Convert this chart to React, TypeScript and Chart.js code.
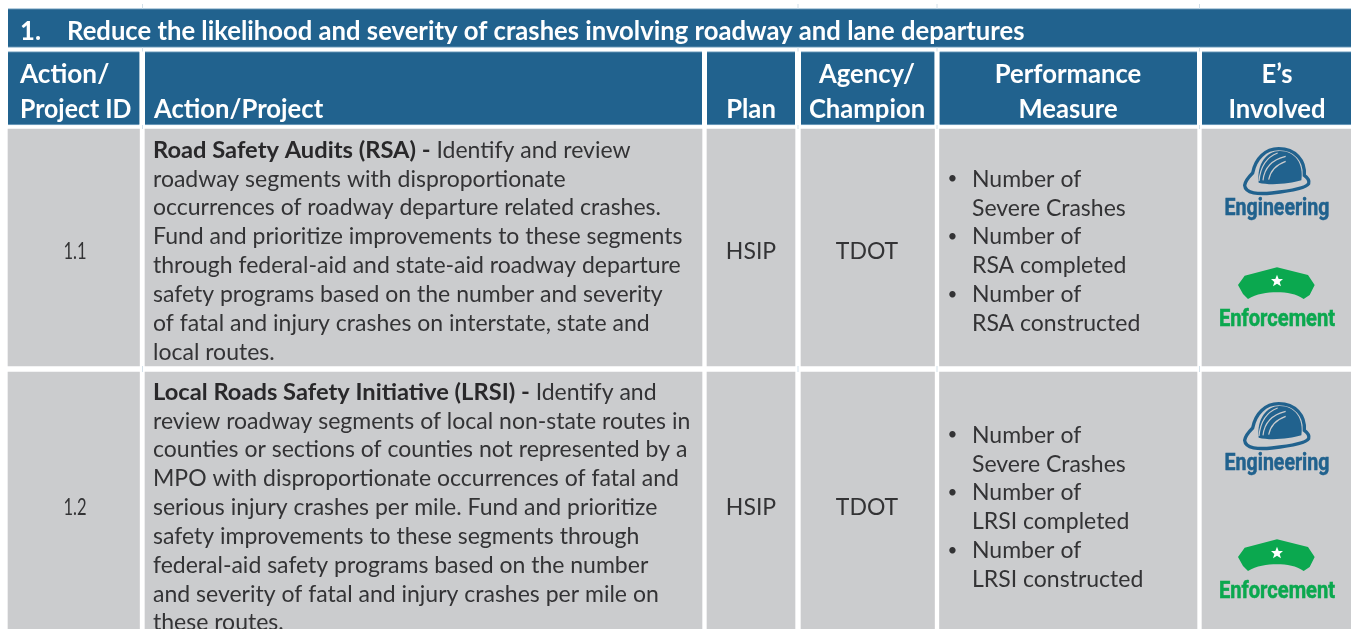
import React, { useEffect, useRef } from "react";
import { Chart, registerables } from "chart.js";

Chart.register(...registerables);

// ---------- content ----------
const sectionNumber = "1.";
const sectionTitle = "Reduce the likelihood and severity of crashes involving roadway and lane departures";
const headerCol1 = ["Action/", "Project ID"];
const headerCol2 = ["Action/Project"];
const headerCol3 = ["Plan"];
const headerCol4 = ["Agency/", "Champion"];
const headerCol5 = ["Performance", "Measure"];
const headerCol6 = ["E\u2019s", "Involved"];
const projectIds = ["1.1", "1.2"];
const plans = ["HSIP", "HSIP"];
const agencies = ["TDOT", "TDOT"];
const boldLeads = ["Road Safety Audits (RSA) -", "Local Roads Safety Initiative (LRSI) -"];
const leadTails = [" Identify and review", " Identify and"];
const row1Lines = [
  "roadway segments with disproportionate",
  "occurrences of roadway departure related crashes.",
  "Fund and prioritize improvements to these segments",
  "through federal-aid and state-aid roadway departure",
  "safety programs based on the number and severity",
  "of fatal and injury crashes on interstate, state and",
  "local routes.",
];
const row2Lines = [
  "review roadway segments of local non-state routes in",
  "counties or sections of counties not represented by a",
  "MPO with disproportionate occurrences of fatal and",
  "serious injury crashes per mile. Fund and prioritize",
  "safety improvements to these segments through",
  "federal-aid safety programs based on the number",
  "and severity of fatal and injury crashes per mile on",
  "these routes.",
];
const row1Measures = [["Number of", "Severe Crashes"], ["Number of", "RSA completed"], ["Number of", "RSA constructed"]];
const row2Measures = [["Number of", "Severe Crashes"], ["Number of", "LRSI completed"], ["Number of", "LRSI constructed"]];
const engineeringLabel = "Engineering";
const enforcementLabel = "Enforcement";

// ---------- layout (in scale units, 1 unit = 1 px) ----------
const columnSpans: [number, number][] = [[8, 139.5], [145, 702], [707, 795], [801, 934.5], [939.5, 1197], [1202, 1351]];
const titleSpan: [number, number] = [8, 1351];
const titleBand: [number, number] = [8.5, 47.5];
const rowBands: [number, number][] = [[51.5, 125], [129, 366], [372, 629]];
const gapTickColumns = [142.5, 798, 937, 1199.5];
const gapTickBands: [number, number][] = [[4, 8.5], [47.5, 51.5], [125, 129], [366, 372]];
const BLUE = "#21628e";
const EDGE = "#7fa8c4";
const TICK = "#d3e0e9";
const GRAY = "#cbccce";
const INK = "#333335";
const BOLD_INK = "#29282a";
const GREEN = "#0ba84f";
const BODY_FONT = "Lato";
const BODY_SIZE = 23;
const BODY_SQUEEZE = 1.0;
const BOLD_SQUEEZE = 1.03;
const HEAD_SQUEEZE = 0.95;
const ID_SQUEEZE = 0.72;
const LINE = 28.83;

const helmetOutline = "M133 165 C135 150 150 135 157 128 C165 85 195 55 235 55 C285 55 315 90 312 135 C322 142 328 150 325 160 C318 172 270 182 215 188 C175 192 135 190 133 165 Z";
const helmetDome = "M175 157 C168 100 200 62 238 62 C285 62 310 100 303 150 C270 160 210 166 175 157 Z";
const helmetArcs = ["M188 150 C192 112 215 88 256 78", "M205 148 C210 122 225 104 256 93", "M176 152 C180 110 200 80 232 68"];
const capShape = "M115 465 L135 437 L232 412 L325 435 L345 465 L330 495 L312 507 C290 492 262 487 232 487 C202 487 170 492 145 507 L130 492 Z";
const capStar = "M232 434 L237 447 L250 447 L240 456 L244 469 L232 461 L220 469 L224 456 L214 447 L227 447 Z";

const cellPlugin = {
  id: "tableText",
  afterDatasetsDraw(chart: any) {
    const { ctx, scales } = chart;
    const X = (v: number) => scales.x.getPixelForValue(v);
    const Y = (v: number) => scales.y.getPixelForValue(v);
    ctx.save();
    ctx.textBaseline = "alphabetic";

    ctx.strokeStyle = TICK;
    ctx.lineWidth = 1;
    gapTickColumns.forEach((c) =>
      gapTickBands.forEach((b) => {
        ctx.beginPath();
        ctx.moveTo(X(c), Y(b[0]));
        ctx.lineTo(X(c), Y(b[1]));
        ctx.stroke();
      })
    );

    const put = (s: string, x: number, y: number, font: string, color: string, align: CanvasTextAlign = "left", squeeze = 1, weight = 0) => {
      ctx.save();
      ctx.font = font;
      ctx.fillStyle = color;
      ctx.textAlign = align;
      ctx.translate(X(x), Y(y));
      ctx.scale(squeeze, 1);
      ctx.fillText(s, 0, 0);
      if (weight > 0) {
        ctx.strokeStyle = color;
        ctx.lineWidth = weight;
        ctx.strokeText(s, 0, 0);
      }
      ctx.restore();
    };

    const headFont = `bold 27px ${BODY_FONT}`;
    const white = "#ffffff";
    put(sectionNumber, 20, 40, headFont, white, "left", HEAD_SQUEEZE);
    put(sectionTitle, 67, 40, headFont, white, "left", HEAD_SQUEEZE);
    put(headerCol1[0], 20, 83, headFont, white, "left", 0.97);
    put(headerCol1[1], 20, 118, headFont, white, "left", 0.92);
    put(headerCol2[0], 154, 118, headFont, white, "left", HEAD_SQUEEZE);
    put(headerCol3[0], 751, 118, headFont, white, "center", HEAD_SQUEEZE);
    put(headerCol4[0], 867, 83, headFont, white, "center", HEAD_SQUEEZE);
    put(headerCol4[1], 867, 118, headFont, white, "center", HEAD_SQUEEZE);
    put(headerCol5[0], 1068, 83, headFont, white, "center", HEAD_SQUEEZE);
    put(headerCol5[1], 1068, 118, headFont, white, "center", HEAD_SQUEEZE);
    put(headerCol6[0], 1277, 83, headFont, white, "center", HEAD_SQUEEZE);
    put(headerCol6[1], 1277, 118, headFont, white, "center", HEAD_SQUEEZE);

    const body = `${BODY_SIZE}px ${BODY_FONT}`;
    const bold = `bold ${BODY_SIZE}px ${BODY_FONT}`;
    const rows = [
      { lines: row1Lines, top: 157.7, mid: 258.7, measures: row1Measures, mTop: 186.7 },
      { lines: row2Lines, top: 399.7, mid: 514.7, measures: row2Measures, mTop: 442.7 },
    ];
    rows.forEach((r, i) => {
      put(projectIds[i], 75, r.mid, body, INK, "center", ID_SQUEEZE);
      put(plans[i], 751, r.mid, body, INK, "center", BODY_SQUEEZE);
      put(agencies[i], 867, r.mid, body, INK, "center", BODY_SQUEEZE);
      put(boldLeads[i], 153, r.top, bold, BOLD_INK, "left", BOLD_SQUEEZE);
      ctx.font = bold;
      const w = ctx.measureText(boldLeads[i]).width * BOLD_SQUEEZE;
      put(leadTails[i], 153 + w, r.top, body, INK, "left", BODY_SQUEEZE);
      r.lines.forEach((l, j) => put(l, 153, r.top + (j + 1) * LINE, body, INK, "left", BODY_SQUEEZE));
      r.measures.forEach((m, k) => {
        const y0 = r.mTop + k * 2 * LINE;
        put("\u2022", 947.5, y0 - 2.5, `17px ${BODY_FONT}`, INK);
        put(m[0], 972, y0, body, INK, "left", BODY_SQUEEZE);
        put(m[1], 972, y0 + LINE, body, INK, "left", BODY_SQUEEZE);
      });
    });

    // icons + labels
    const icon = (draw: () => void, cx: number, cy: number, ax: number, ay: number) => {
      ctx.save();
      ctx.translate(X(cx), Y(cy));
      ctx.scale(1 / 3, 1 / 3);
      ctx.translate(-ax, -ay);
      draw();
      ctx.restore();
    };
    const helmet = () => {
      ctx.strokeStyle = BLUE;
      ctx.lineWidth = 10;
      ctx.stroke(new Path2D(helmetOutline));
      ctx.fillStyle = BLUE;
      ctx.fill(new Path2D(helmetDome));
      ctx.strokeStyle = GRAY;
      ctx.lineWidth = 3.5;
      helmetArcs.forEach((a) => ctx.stroke(new Path2D(a)));
    };
    const cap = () => {
      ctx.fillStyle = GREEN;
      ctx.fill(new Path2D(capShape));
      ctx.fillStyle = "#fff";
      ctx.fill(new Path2D(capStar));
    };
    [0, 255].forEach((dy) => {
      icon(helmet, 1277, 172 + dy, 230, 125);
      put(engineeringLabel, 1277, 215 + dy, "bold 23px Roboto", BLUE, "center", 0.85, 0.5);
    });
    [0, 272].forEach((dy) => {
      icon(cap, 1277, 285 + dy, 232, 465);
      put(enforcementLabel, 1277, 325.5 + dy, "bold 23px Roboto", GREEN, "center", 0.875, 0.5);
    });
    ctx.restore();
  },
};

export default function App() {
  const ref = useRef<HTMLCanvasElement>(null);
  useEffect(() => {
    const blueEdge = { top: 1, bottom: 1, left: 0, right: 0 };
    const datasets: any[] = [
      {
        stack: "table",
        barThickness: titleSpan[1] - titleSpan[0],
        backgroundColor: BLUE,
        borderColor: EDGE,
        borderWidth: blueEdge,
        borderSkipped: false,
        data: [{ x: (titleSpan[0] + titleSpan[1]) / 2, y: titleBand }],
      },
      ...columnSpans.map((c) => ({
        stack: "table",
        barThickness: c[1] - c[0],
        backgroundColor: rowBands.map((_, i) => (i === 0 ? BLUE : GRAY)),
        borderColor: EDGE,
        borderSkipped: false,
        borderWidth: (ctx: any) => (ctx.dataIndex === 0 ? blueEdge : 0),
        data: rowBands.map((b) => ({ x: (c[0] + c[1]) / 2, y: b })),
      })),
    ];
    const chart = new Chart(ref.current!, {
      type: "bar",
      data: { datasets },
      plugins: [cellPlugin],
      options: {
        animation: false,
        responsive: false,
        layout: { padding: 0 },
        plugins: { legend: { display: false }, tooltip: { enabled: false }, title: { display: false } },
        scales: {
          x: { type: "linear", min: 0, max: 1351, offset: false, display: false },
          y: { type: "linear", min: 0, max: 629, reverse: true, stacked: false, display: false, beginAtZero: false },
        },
      },
    } as any);
    return () => chart.destroy();
  }, []);
  return (
    <div style={{ position: "fixed", left: 0, top: 0, width: 1351, height: 629, background: "#fff" }}>
      <canvas ref={ref} width={1351} height={629} style={{ display: "block" }} />
    </div>
  );
}
